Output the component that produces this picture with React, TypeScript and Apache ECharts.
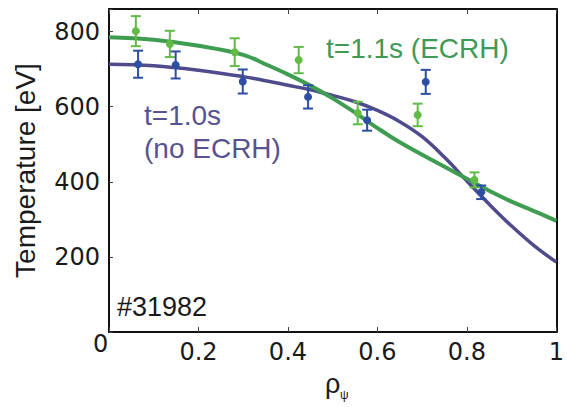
import React, { useEffect, useRef } from "react";
import * as echarts from "echarts";

// Measured points (rho_psi, Te [eV], error)
const ecrhRho = [0.06, 0.136, 0.281, 0.424, 0.556, 0.69, 0.817];
const ecrhTe = [801, 767, 745, 724, 583, 578, 405];
const ecrhErr = [40, 35, 37, 35, 30, 30, 20];

const ohmRho = [0.065, 0.149, 0.299, 0.445, 0.577, 0.708, 0.832];
const ohmTe = [713, 711, 667, 626, 564, 666, 372];
const ohmErr = [36, 36, 32, 31, 28, 32, 18];

// Fitted profiles
const fitRho = [0, 0.1, 0.2, 0.3, 0.35, 0.4, 0.45, 0.5, 0.55, 0.6, 0.65, 0.7, 0.75, 0.8, 0.85, 0.9, 0.95, 1.0];
const ecrhFit = [785, 778, 762, 738, 713, 686, 656, 622, 584, 543, 505, 472, 440, 408, 376, 347, 322, 296];
const ohmFit = [713, 709, 697, 680, 669, 657, 645, 630, 613, 590, 560, 520, 465, 402, 340, 282, 230, 186];

const xTicks = [0, 0.2, 0.4, 0.6, 0.8, 1];
const yTicks = [200, 400, 600, 800];

const GREEN_LINE = "#3f9d52";
const GREEN_PT = "#62bb46";
const PURPLE_LINE = "#4f4b8c";
const BLUE_PT = "#2c4fa3";

function errSeries(name: string, xs: number[], ys: number[], es: number[], color: string) {
  return {
    type: "custom",
    name,
    z: 5,
    data: xs.map((x, i) => [x, ys[i], es[i]]),
    renderItem: (_params: any, api: any) => {
      const x = api.value(0);
      const y = api.value(1);
      const e = api.value(2);
      const c = api.coord([x, y]);
      const top = api.coord([x, y + e]);
      const bot = api.coord([x, y - e]);
      const hw = 5;
      const st = { stroke: color, lineWidth: 2 };
      return {
        type: "group",
        children: [
          { type: "line", shape: { x1: c[0], y1: top[1], x2: c[0], y2: bot[1] }, style: st },
          { type: "line", shape: { x1: c[0] - hw, y1: top[1], x2: c[0] + hw, y2: top[1] }, style: st },
          { type: "line", shape: { x1: c[0] - hw, y1: bot[1], x2: c[0] + hw, y2: bot[1] }, style: st },
          { type: "circle", shape: { cx: c[0], cy: c[1], r: 4 }, style: { fill: color } },
        ],
      };
    },
  };
}

export default function App() {
  const ref = useRef<HTMLDivElement>(null);
  useEffect(() => {
    if (!ref.current) return;
    const chart = echarts.init(ref.current, null, { renderer: "svg" });
    const labelStyle = { fontFamily: "DejaVu Sans", fontSize: 24, color: "#1a1a1a" };
    const axisLine = { show: true, onZero: false, lineStyle: { color: "#111", width: 2 } };
    chart.setOption({
      animation: false,
      backgroundColor: "#ffffff",
      grid: { left: 109, right: 10, top: 9, bottom: 75 },
      xAxis: [
        {
          type: "value",
          min: 0,
          max: 1,
          interval: 0.2,
          axisLine,
          axisTick: { show: true, inside: true, length: 5, lineStyle: { color: "#444", width: 1 } },
          axisLabel: {
            ...labelStyle,
            margin: 8,
            formatter: (v: number) => {
              const t = xTicks.find((k) => Math.abs(k - v) < 1e-6);
              if (t === undefined || t === 0) return "";
              return t === 1 ? "1" : t.toFixed(1);
            },
          },
          splitLine: { show: false },
        },
        {
          type: "value",
          position: "top",
          min: 0,
          max: 1,
          interval: 0.2,
          axisLine,
          axisTick: { show: true, inside: true, length: 5, lineStyle: { color: "#444", width: 1 } },
          axisLabel: { show: false },
          splitLine: { show: false },
        },
      ],
      yAxis: [
        {
          type: "value",
          min: 0,
          max: 860,
          interval: 200,
          axisLine,
          axisTick: { show: true, inside: true, length: 4, lineStyle: { color: "#444", width: 1 } },
          axisLabel: {
            ...labelStyle,
            margin: 9,
            formatter: (v: number) => (yTicks.includes(v) ? String(v) : ""),
          },
          splitLine: { show: false },
          name: "Temperature [eV]",
          nameLocation: "middle",
          nameGap: 70,
          nameTextStyle: { fontFamily: "Liberation Sans", fontSize: 28, color: "#1a1a1a" },
        },
        {
          type: "value",
          position: "right",
          min: 0,
          max: 860,
          axisLine,
          axisTick: { show: false },
          axisLabel: { show: false },
          splitLine: { show: false },
        },
      ],
      graphic: [
        { type: "text", left: 93, top: 332, style: { text: "0", fontFamily: "DejaVu Sans", fontSize: 24, fill: "#1a1a1a" } },
        { type: "text", left: 325, top: 370, style: { text: "ρ", fontFamily: "Liberation Sans", fontSize: 27, fill: "#1a1a1a" } },
        { type: "text", left: 340, top: 389, style: { text: "ψ", fontFamily: "Liberation Sans", fontSize: 12, fill: "#1a1a1a" } },
        { type: "text", left: 117, top: 293, style: { text: "#31982", fontFamily: "Liberation Sans", fontSize: 27, fill: "#1a1a1a" } },
        { type: "text", left: 326, top: 34, style: { text: "t=1.1s (ECRH)", fontFamily: "Liberation Sans", fontSize: 28, fill: "#3e9a55" } },
        { type: "text", left: 144, top: 101, style: { text: "t=1.0s", fontFamily: "Liberation Sans", fontSize: 28, fill: "#575390" } },
        { type: "text", left: 144, top: 134, style: { text: "(no ECRH)", fontFamily: "Liberation Sans", fontSize: 28, fill: "#575390" } },
      ],
      series: [
        {
          type: "line",
          name: "fit t=1.0s",
          data: fitRho.map((x, i) => [x, ohmFit[i]]),
          smooth: 0.4,
          showSymbol: false,
          lineStyle: { color: PURPLE_LINE, width: 3.5 },
          z: 2,
        },
        {
          type: "line",
          name: "fit t=1.1s",
          data: fitRho.map((x, i) => [x, ecrhFit[i]]),
          smooth: 0.4,
          showSymbol: false,
          lineStyle: { color: GREEN_LINE, width: 4 },
          z: 3,
        },
        errSeries("t=1.1s", ecrhRho, ecrhTe, ecrhErr, GREEN_PT),
        errSeries("t=1.0s", ohmRho, ohmTe, ohmErr, BLUE_PT),
      ],
    });
    return () => chart.dispose();
  }, []);
  return <div ref={ref} style={{ width: 567, height: 407, position: "absolute", left: 0, top: 0 }} />;
}
